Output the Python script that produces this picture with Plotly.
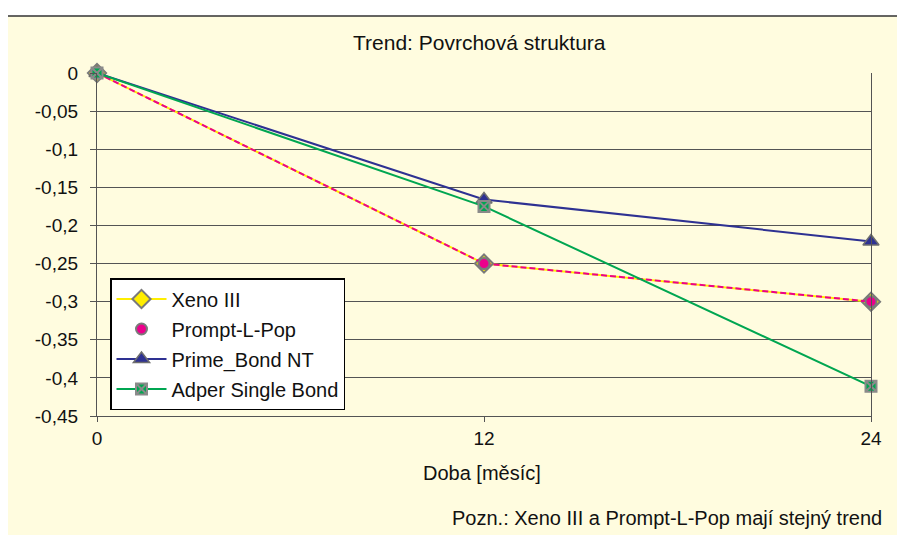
"""Trend chart: Povrchová struktura (Plotly)."""

import plotly.graph_objects as go

# data
months = [0, 12, 24]
xeno = [0, -0.25, -0.30]
prompt = [0, -0.25, -0.30]
prime = [0, -0.166, -0.221]
adper = [0, -0.175, -0.411]

y_ticks = [0, -0.05, -0.1, -0.15, -0.2, -0.25, -0.3, -0.35, -0.4, -0.45]
y_labels = ["0", "-0,05", "-0,1", "-0,15", "-0,2", "-0,25", "-0,3", "-0,35", "-0,4", "-0,45"]
x_ticks = [0, 12, 24]
x_labels = ["0", "12", "24"]

BG = "#FFFCDF"
GRID = "#545454"
FONT = "Liberation Sans, Arial, sans-serif"
TXT = "#111111"

# the page puts the figure 8px in from the corner of the window
OFF = 8
W, H = 905 - OFF, 535 - OFF
# plot area in window pixels: x 97..871, y 73..416
L, R, T, B = 97 - OFF, W - (871 - OFF), 73 - OFF, H - (416 - OFF)
pw, ph = W - L - R, H - T - B


def px_x(p):
    return (p - OFF - L) / pw


def px_y(p):
    return (H - B - (p - OFF)) / ph


fig = go.Figure()

fig.add_trace(go.Scatter(
    x=months, y=xeno, name="Xeno III", mode="lines+markers", legendgroup="a",
    line=dict(color="#FFEE00", width=2),
    marker=dict(symbol="diamond", size=14, color="#FFEE00",
                line=dict(color="#7a7a7a", width=2)),
    cliponaxis=False,
))
fig.add_trace(go.Scatter(
    x=months, y=prompt, name="Prompt-L-Pop", mode="lines", legendgroup="b",
    line=dict(color="#EC008C", width=2, dash="6px,3px"),
    showlegend=False, cliponaxis=False,
))
fig.add_trace(go.Scatter(
    x=months, y=prompt, name="Prompt-L-Pop", mode="markers", legendgroup="b",
    marker=dict(symbol="circle", size=11, color="#EC008C",
                line=dict(color="#7a7a7a", width=2)),
    cliponaxis=False,
))
fig.add_trace(go.Scatter(
    x=months, y=prime, name="Prime_Bond NT", mode="lines+markers", legendgroup="c",
    line=dict(color="#2E3192", width=2),
    marker=dict(symbol="triangle-up", size=14, color="#2E3192",
                line=dict(color="#6e6e6e", width=1.5)),
    cliponaxis=False,
))
fig.add_trace(go.Scatter(
    x=months, y=adper, name="Adper Single Bond", mode="lines+markers", legendgroup="d",
    line=dict(color="#00A651", width=2),
    marker=dict(symbol="square-x", size=11, color="#00A651",
                line=dict(color="#8a8a8a", width=2)),
    cliponaxis=False,
))

# chart area frame (white strip on top and left, as in the source)
fig.add_shape(
    type="rect", xref="paper", yref="paper", layer="below",
    x0=px_x(7), x1=px_x(915), y0=px_y(545), y1=px_y(16),
    fillcolor=BG, line=dict(color="#333333", width=1.5),
)

fig.add_annotation(
    text="Trend: Povrchová struktura", xref="paper", yref="paper",
    x=px_x(479), y=px_y(42), xanchor="center", yanchor="middle", showarrow=False,
    font=dict(family=FONT, size=21, color=TXT),
)
fig.add_annotation(
    text="Doba [měsíc]", xref="paper", yref="paper",
    x=px_x(482), y=px_y(473), xanchor="center", yanchor="middle", showarrow=False,
    font=dict(family=FONT, size=20, color=TXT),
)
fig.add_annotation(
    text="Pozn.: Xeno III a Prompt-L-Pop mají stejný trend",
    xref="paper", yref="paper", x=px_x(884), y=px_y(518),
    xanchor="right", yanchor="middle", showarrow=False,
    font=dict(family=FONT, size=20, color=TXT),
)

fig.update_xaxes(
    range=[0, 24], tickvals=x_ticks, ticktext=x_labels,
    showgrid=False, zeroline=False,
    showline=True, linecolor=GRID, linewidth=1.2,
    ticks="outside", ticklen=5, tickcolor=GRID, ticklabelstandoff=0,
    tickfont=dict(family=FONT, size=19, color=TXT),
)
fig.update_yaxes(
    range=[-0.45, 0], tickvals=y_ticks, ticktext=y_labels,
    showgrid=True, gridcolor=GRID, gridwidth=1.2, zeroline=False,
    showline=True, mirror=True, linecolor=GRID, linewidth=1.2,
    ticks="outside", ticklen=6, tickcolor=GRID, ticklabelstandoff=8,
    tickfont=dict(family=FONT, size=19, color=TXT),
)

fig.update_layout(
    width=W, height=H,
    margin=dict(l=L, r=R, t=T, b=B),
    paper_bgcolor="white", plot_bgcolor="rgba(0,0,0,0)",
    showlegend=True,
    legend=dict(
        x=px_x(110), y=px_y(278), xanchor="left", yanchor="top",
        bgcolor="white", bordercolor="black", borderwidth=1.5,
        font=dict(family=FONT, size=20, color=TXT),
        itemwidth=50, traceorder="grouped", tracegroupgap=1,
    ),
)

fig.write_html("out.html")
